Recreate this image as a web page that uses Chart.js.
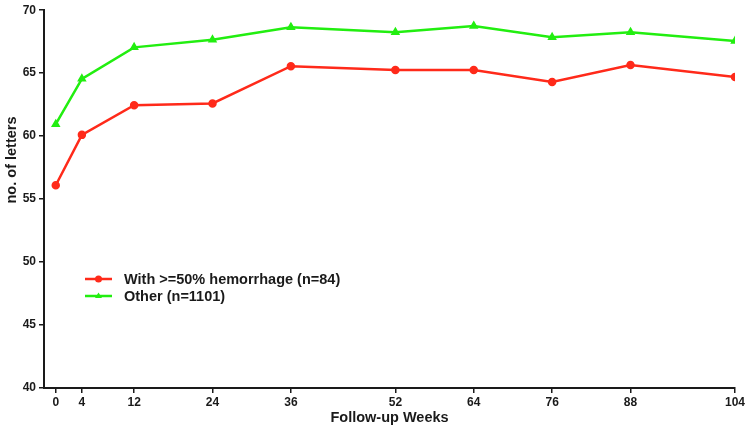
<!DOCTYPE html>
<html>
<head>
<meta charset="utf-8">
<script src="https://cdn.jsdelivr.net/npm/chart.js@4/dist/chart.umd.min.js"></script>
<style>
    html, body { margin: 0; padding: 0; background: #fff; }
    #wrap { width: 750px; height: 431px; position: relative; }
</style>
</head>
<body>
<div id="wrap"><canvas id="chart"></canvas></div>
<script>
'use strict';

// ===== データ =====
const WEEKS      = [0, 4, 12, 24, 36, 52, 64, 76, 88, 104];
const HEMORRHAGE = [56.1, 60.1, 62.45, 62.6, 65.55, 65.25, 65.25, 64.3, 65.65, 64.7];
const OTHER      = [60.95, 64.55, 67.05, 67.65, 68.65, 68.25, 68.75, 67.85, 68.25, 67.55];
const Y_TICKS    = [40, 45, 50, 55, 60, 65, 70];

const RED   = '#ff2a1a';
const GREEN = '#22ee10';
const INK   = '#1a1a1a';
const FONT  = '"Liberation Sans", Arial, sans-serif';

const toPoints = vals => WEEKS.map((w, i) => ({ x: w, y: vals[i] }));

// ===== 凡例（グラフ内左下）と縦軸タイトル =====
const insideLegend = {
    id: 'insideLegend',
    afterDraw(chart) {
        const { ctx } = chart;

        // 縦軸タイトル（元図では軸中央より上寄り）
        ctx.save();
        ctx.translate(12, 160);
        ctx.rotate(-Math.PI / 2);
        ctx.fillStyle = INK;
        ctx.font = `bold 14.5px ${FONT}`;
        ctx.textAlign = 'center';
        ctx.textBaseline = 'middle';
        ctx.fillText('no. of letters', 0, 0);
        ctx.restore();

        const x0 = 85, y0 = 279, rowH = 17;
        chart.data.datasets.forEach((ds, i) => {
            const y = y0 + i * rowH;
            ctx.save();
            ctx.strokeStyle = ds.borderColor;
            ctx.fillStyle = ds.borderColor;
            ctx.lineWidth = 2.5;
            ctx.beginPath();
            ctx.moveTo(x0, y);
            ctx.lineTo(x0 + 27, y);
            ctx.stroke();
            const cx = x0 + 13.5;
            ctx.beginPath();
            if (ds.pointStyle === 'triangle') {
                ctx.moveTo(cx, y - 3.5);
                ctx.lineTo(cx + 3.5, y + 2);
                ctx.lineTo(cx - 3.5, y + 2);
                ctx.closePath();
            } else {
                ctx.arc(cx, y, 3.5, 0, Math.PI * 2);
            }
            ctx.fill();
            ctx.fillStyle = INK;
            ctx.font = `bold 14.5px ${FONT}`;
            ctx.textBaseline = 'middle';
            ctx.fillText(ds.label, x0 + 39, y + 1);
            ctx.restore();
        });
    },
};

const ctx = document.getElementById('chart').getContext('2d');
new Chart(ctx, {
    type: 'line',
    data: {
        datasets: [
            {
                label: 'With >=50% hemorrhage (n=84)',
                data: toPoints(HEMORRHAGE),
                borderColor: RED,
                backgroundColor: RED,
                borderWidth: 2.5,
                pointStyle: 'circle',
                pointRadius: 3,
                tension: 0,
            },
            {
                label: 'Other (n=1101)',
                data: toPoints(OTHER),
                borderColor: GREEN,
                backgroundColor: GREEN,
                borderWidth: 2.5,
                pointStyle: 'triangle',
                pointRadius: 3,
                tension: 0,
            },
        ],
    },
    options: {
        responsive: true,
        maintainAspectRatio: false,
        animation: false,
        layout: { padding: { top: 10, right: 15, left: 0, bottom: 0 } },
        plugins: {
            legend: { display: false },
            tooltip: { enabled: false },
        },
        scales: {
            x: {
                type: 'linear',
                min: -1.8,
                max: 104,
                afterBuildTicks: axis => { axis.ticks = WEEKS.map(v => ({ value: v })); },
                afterFit: axis => { axis.height = 43; },
                ticks: {
                    autoSkip: false,
                    maxRotation: 0,
                    padding: 2,
                    color: INK,
                    font: { family: FONT, size: 12, weight: 'bold' },
                },
                grid: { drawOnChartArea: false, tickLength: 5, color: INK, lineWidth: 1.5 },
                border: { color: INK, width: 2 },
                title: {
                    display: true,
                    text: 'Follow-up Weeks',
                    color: INK,
                    padding: { top: 0, bottom: 4 },
                    font: { family: FONT, size: 14.5, weight: 'bold' },
                },
            },
            y: {
                min: 40,
                max: 70,
                afterBuildTicks: axis => { axis.ticks = Y_TICKS.map(v => ({ value: v })); },
                afterFit: axis => { axis.width = 44; },
                ticks: {
                    padding: 3,
                    color: INK,
                    font: { family: FONT, size: 12, weight: 'bold' },
                },
                grid: { drawOnChartArea: false, tickLength: 5, color: INK, lineWidth: 1.5 },
                border: { color: INK, width: 2 },
            },
        },
    },
    plugins: [insideLegend],
});
</script>
</body>
</html>
